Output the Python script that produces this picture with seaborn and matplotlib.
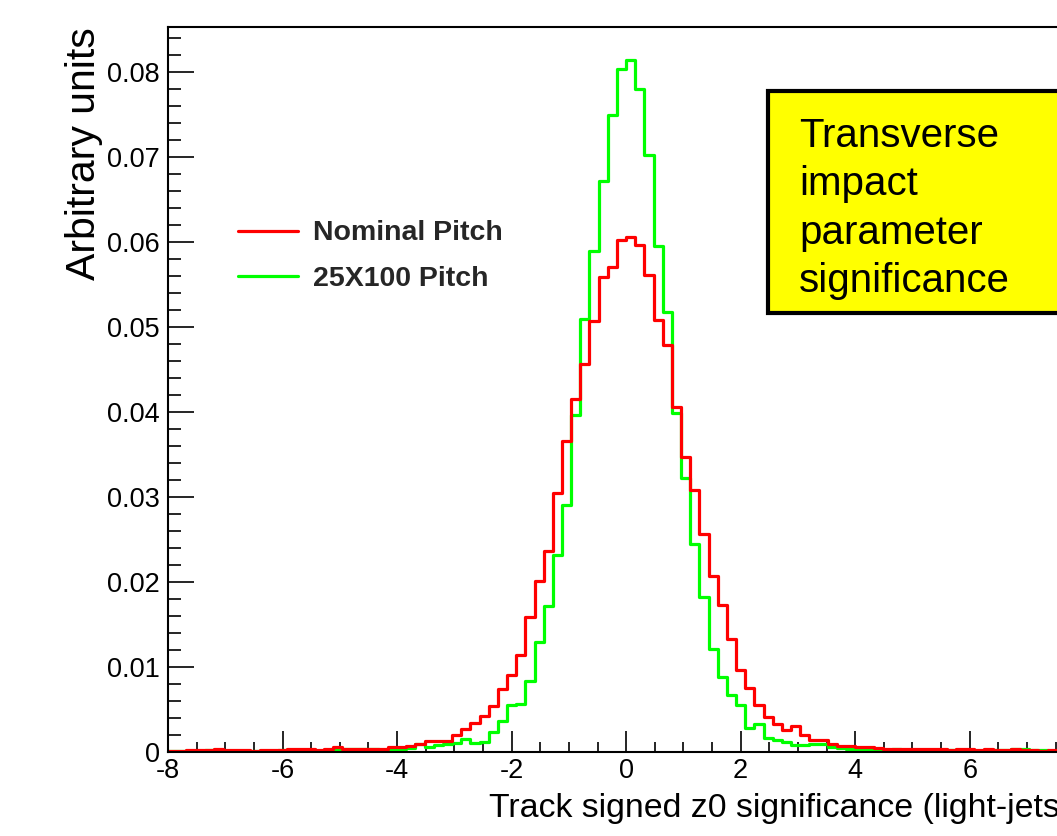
import numpy as np
import pandas as pd
import matplotlib
matplotlib.use("Agg")
import matplotlib.pyplot as plt
import seaborn as sns
from matplotlib.lines import Line2D
from matplotlib.patches import Rectangle
from matplotlib.ticker import FixedLocator, MultipleLocator, FuncFormatter

# ---------------- data ----------------
x_range = (-8.0, 8.0)
n_bins = 100

nominal_pitch = [
    0.0001, 0.0001, 0.0002, 0.0002, 0.0002, 0.0003, 0.0002, 0.0002, 0.0002, 0.0001,
    0.0002, 0.0002, 0.0002, 0.0003, 0.0003, 0.0003, 0.0002, 0.0004, 0.0006, 0.0003,
    0.0004, 0.0004, 0.0004, 0.0004, 0.0006, 0.0006, 0.0007, 0.0009, 0.0013, 0.0013,
    0.0013, 0.0020, 0.0027, 0.0034, 0.0042, 0.0054, 0.0074, 0.0091, 0.0114, 0.0159,
    0.0201, 0.0237, 0.0305, 0.0366, 0.0415, 0.0457, 0.0507, 0.0559, 0.0571, 0.0602,
    0.0606, 0.0596, 0.0561, 0.0508, 0.0479, 0.0406, 0.0347, 0.0308, 0.0257, 0.0207,
    0.0173, 0.0133, 0.0097, 0.0075, 0.0055, 0.0041, 0.0033, 0.0026, 0.0031, 0.0020,
    0.0014, 0.0014, 0.0009, 0.0007, 0.0007, 0.0006, 0.0006, 0.0005, 0.0004, 0.0003,
    0.0003, 0.0004, 0.0003, 0.0003, 0.0003, 0.0002, 0.0003, 0.0003, 0.0002, 0.0003,
    0.0002, 0.0002, 0.0003, 0.0002, 0.0002, 0.0001, 0.0002, 0.0001, 0.0001, 0.0001,
]

pitch_25x100 = [
    0.0001, 0.0001, 0.0001, 0.0001, 0.0002, 0.0001, 0.0001, 0.0001, 0.0001, 0.0001,
    0.0001, 0.0001, 0.0002, 0.0001, 0.0001, 0.0001, 0.0001, 0.0002, 0.0002, 0.0004,
    0.0003, 0.0003, 0.0003, 0.0002, 0.0003, 0.0004, 0.0005, 0.0010, 0.0006, 0.0008,
    0.0009, 0.0011, 0.0015, 0.0011, 0.0012, 0.0024, 0.0037, 0.0055, 0.0057, 0.0083,
    0.0130, 0.0172, 0.0232, 0.0291, 0.0396, 0.0509, 0.0590, 0.0672, 0.0750, 0.0804,
    0.0814, 0.0780, 0.0702, 0.0595, 0.0518, 0.0399, 0.0322, 0.0245, 0.0182, 0.0121,
    0.0088, 0.0067, 0.0055, 0.0028, 0.0033, 0.0017, 0.0014, 0.0012, 0.0008, 0.0008,
    0.0009, 0.0009, 0.0006, 0.0005, 0.0004, 0.0003, 0.0003, 0.0002, 0.0002, 0.0003,
    0.0002, 0.0002, 0.0002, 0.0002, 0.0002, 0.0002, 0.0002, 0.0002, 0.0001, 0.0002,
    0.0002, 0.0002, 0.0003, 0.0003, 0.0002, 0.0002, 0.0001, 0.0001, 0.0001, 0.0001,
]

series_names = ["Nominal Pitch", "25X100 Pitch"]
series_colors = ["#ff0000", "#00ff00"]
x_ticks = [-8, -6, -4, -2, 0, 2, 4, 6, 8]
y_ticks = [0.0, 0.01, 0.02, 0.03, 0.04, 0.05, 0.06, 0.07, 0.08]
x_title = "Track signed z0 significance (light-jets)"
y_title = "Arbitrary units"
box_text = "Transverse\nimpact\nparameter\nsignificance"

# ---------------- figure ----------------
sns.set_theme(style="white")
plt.rcParams["font.family"] = ["Liberation Sans", "DejaVu Sans"]

W, H = 1057, 836
fig = plt.figure(figsize=(W / 100, H / 100), dpi=100)
ax_left, ax_right, ax_bottom, ax_top = 168, 1084.3, 752, 27
ax_w, ax_h = ax_right - ax_left, ax_bottom - ax_top
ax = fig.add_axes([ax_left / W, 1 - ax_bottom / H, ax_w / W, ax_h / H])

edges = np.linspace(x_range[0], x_range[1], n_bins + 1)
centers = 0.5 * (edges[:-1] + edges[1:])
df = pd.DataFrame({
    "x": np.concatenate([centers, centers]),
    "w": nominal_pitch + pitch_25x100,
    "series": [series_names[0]] * n_bins + [series_names[1]] * n_bins,
})

# green first, red on top
for name, color in zip(series_names[::-1], series_colors[::-1]):
    sub = df[df["series"] == name]
    sns.histplot(data=sub, x="x", weights="w", bins=n_bins, binrange=x_range,
                 element="step", fill=False, color=color, linewidth=2.3, ax=ax)

ax.set_xlim(*x_range)
ax.set_ylim(0, 0.0853)

ax.xaxis.set_major_locator(FixedLocator(x_ticks))
ax.xaxis.set_minor_locator(MultipleLocator(0.5))
ax.yaxis.set_major_locator(FixedLocator(y_ticks))
ax.yaxis.set_minor_locator(MultipleLocator(0.002))
ax.xaxis.set_major_formatter(FuncFormatter(lambda v, p: f"{v:g}"))
ax.yaxis.set_major_formatter(FuncFormatter(lambda v, p: "0" if abs(v) < 1e-12 else f"{v:.2f}"))

ax.tick_params(axis="x", which="major", direction="in", length=15, width=1.2,
               labelsize=19.5, pad=4.3, colors="black", bottom=True, top=False)
ax.tick_params(axis="x", which="minor", direction="in", length=7.5, width=1.2,
               bottom=True, top=False, colors="black")
ax.tick_params(axis="y", which="major", direction="in", length=19, width=1.2,
               labelsize=19.5, pad=5.8, colors="black", left=True, right=False)
ax.tick_params(axis="y", which="minor", direction="in", length=9.5, width=1.2,
               left=True, right=False, colors="black")

for s in ax.spines.values():
    s.set_color("black")
    s.set_linewidth(1.5)
    s.set_visible(True)

ax.set_xlabel(x_title, loc="right", fontsize=24.4, color="black")
ax.xaxis.set_label_coords((1071 - ax_left) / ax_w, -0.0566)
ax.set_ylabel(y_title, loc="top", fontsize=29.5, color="black")
ax.yaxis.set_label_coords((103 - ax_left) / ax_w, 1.0)

# legend
handles = [Line2D([], [], color=c, lw=2.3) for c in series_colors]
ax.legend(handles, series_names, loc="upper left",
          bbox_to_anchor=(238 / W, 1 - 220.5 / H), bbox_transform=fig.transFigure,
          frameon=False, prop={"weight": "bold", "size": 20.5},
          handlelength=2.1, handletextpad=0.53, labelspacing=0.69,
          borderpad=0, borderaxespad=0)

# yellow annotation box
bx0 = (768 - ax_left) / ax_w
by0 = (ax_bottom - 312.7) / ax_h
by1 = (ax_bottom - 91) / ax_h
ax.add_patch(Rectangle((bx0, by0), 0.5, by1 - by0, transform=ax.transAxes,
                       facecolor="#ffff00", edgecolor="black", linewidth=3,
                       clip_on=False, zorder=5))
ax.text((799.3 - ax_left) / ax_w, (ax_bottom - 116.7) / ax_h,
        box_text, transform=ax.transAxes, ha="left", va="top",
        fontsize=29, linespacing=1.35, color="black", zorder=6)

fig.savefig("out.png", dpi=100)
